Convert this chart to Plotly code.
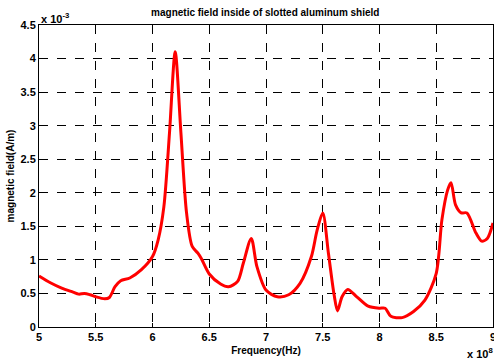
import plotly.graph_objects as go

freq = [5.0, 5.1, 5.2, 5.3, 5.35, 5.4, 5.45, 5.5, 5.58, 5.62, 5.67, 5.72, 5.8, 5.9, 6.0, 6.05, 6.1, 6.15, 6.2, 6.25, 6.3, 6.35, 6.4, 6.43, 6.5, 6.6, 6.67, 6.75, 6.8, 6.87, 6.92, 7.0, 7.1, 7.2, 7.3, 7.4, 7.45, 7.5, 7.55, 7.6, 7.63, 7.67, 7.72, 7.8, 7.9, 8.0, 8.05, 8.1, 8.2, 8.3, 8.4, 8.5, 8.55, 8.6, 8.63, 8.67, 8.72, 8.77, 8.85, 8.9, 8.95, 9.0]
field = [0.76, 0.66, 0.58, 0.52, 0.49, 0.50, 0.48, 0.45, 0.42, 0.44, 0.60, 0.69, 0.73, 0.85, 1.05, 1.30, 1.79, 2.9, 4.1, 2.9, 1.7, 1.2, 1.1, 1.02, 0.79, 0.64, 0.60, 0.68, 0.95, 1.32, 0.90, 0.55, 0.45, 0.48, 0.65, 1.05, 1.44, 1.70, 1.10, 0.48, 0.24, 0.45, 0.56, 0.45, 0.31, 0.28, 0.28, 0.16, 0.14, 0.23, 0.40, 0.80, 1.60, 2.04, 2.15, 1.82, 1.70, 1.70, 1.40, 1.28, 1.32, 1.55]

x_ticks = [5, 5.5, 6, 6.5, 7, 7.5, 8, 8.5, 9]
y_ticks = [0, 0.5, 1, 1.5, 2, 2.5, 3, 3.5, 4, 4.5]

font = "Liberation Sans, Arial, sans-serif"

fig = go.Figure()
fig.add_trace(go.Scatter(x=freq, y=field, mode="lines",
                         line=dict(color="#ff0000", width=3, shape="spline", smoothing=0.8),
                         hoverinfo="skip"))

axis_common = dict(showgrid=True, gridcolor="black", griddash="dash", gridwidth=1,
                   showline=True, linecolor="black", linewidth=1, mirror=True,
                   ticks="inside", ticklen=4, tickcolor="black", zeroline=False,
                   ticklabeloverflow="allow", automargin=False,
                   tickfont=dict(family=font, size=11, color="black", weight="bold"))

fig.update_layout(
    width=494, height=360,
    margin=dict(l=39, r=1, t=25, b=33),
    paper_bgcolor="white", plot_bgcolor="white",
    showlegend=False,
    title=dict(text="<b>magnetic field inside of slotted aluminum shield</b>",
               x=0.537, xanchor="center", y=0.966, yanchor="middle",
               font=dict(family=font, size=10, color="black")),
    xaxis=dict(range=[5, 9], tickvals=x_ticks, ticktext=[str(v) for v in x_ticks],
               title=dict(text="<b>Frequency(Hz)</b>", standoff=4,
                          font=dict(family=font, size=10, color="black")),
               **axis_common),
    yaxis=dict(range=[0, 4.5], tickvals=y_ticks, ticktext=[f"{v:g}" for v in y_ticks],
               title=dict(text="<b>magnetic field(A/m)</b>", standoff=4,
                          font=dict(family=font, size=10, color="black")),
               **axis_common),
    annotations=[
        dict(text="<b>x 10<sup>-3</sup></b>", xref="paper", yref="paper", x=0, y=1,
             xanchor="left", yanchor="bottom", showarrow=False, yshift=-2,
             font=dict(family=font, size=11, color="black")),
        dict(text="<b>x 10<sup>8</sup></b>", xref="paper", yref="paper", x=1, y=0,
             xanchor="right", yanchor="top", showarrow=False, yshift=-17, xshift=2,
             font=dict(family=font, size=11, color="black")),
    ],
)

fig.write_html("out.html")
